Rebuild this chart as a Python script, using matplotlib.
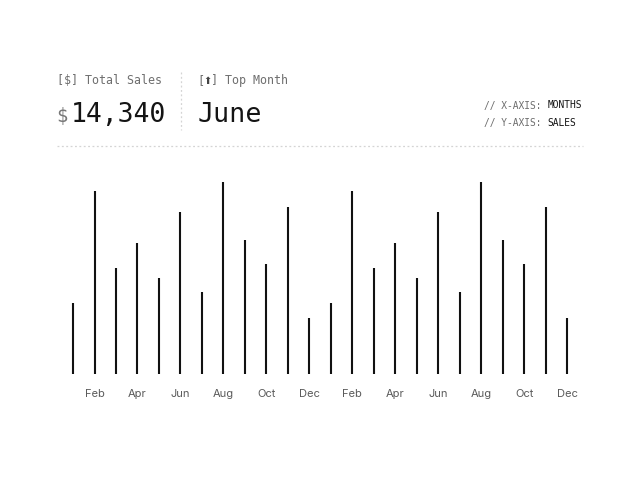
import matplotlib
matplotlib.use("Agg")
import matplotlib.pyplot as plt
from matplotlib.lines import Line2D

# monthly sales, two years shown side by side
months = ["Jan", "Feb", "Mar", "Apr", "May", "Jun",
          "Jul", "Aug", "Sep", "Oct", "Nov", "Dec"]
sales = [680, 1760, 1020, 1260, 920, 1560, 790, 1850, 1290, 1060, 1610, 540]

labels = months * 2
values = sales * 2

total_text = "14,340"
top_month = "June"

W, H = 640, 480
fig = plt.figure(figsize=(6.4, 4.8), dpi=100)
fig.patch.set_facecolor("white")

def fx(px):
    return px / W

def fy(py):
    return 1 - py / H

mono = ["DejaVu Sans Mono", "DejaVu Sans"]
gray = "#6e6e6e"
ink = "#141414"
cw_head = 0.602 * 8.4 * 100 / 72

# header block
fig.text(fx(57), fy(84), "[$] Total Sales", family=mono, size=8.4, color=gray, va="baseline")
fig.text(fx(56), fy(122), "$", family=mono, size=13.5, color="#777777", va="baseline")
fig.text(fx(70.5), fy(122), total_text, family=mono, size=19, color=ink, va="baseline")

fig.text(fx(197), fy(84), "[", family=mono, size=8.4, color=gray, va="baseline")
fig.text(fx(197 + 1.5 * cw_head), fy(84), "\u2b06", family="DejaVu Sans", size=7,
         color="#444444", va="baseline", ha="center")
fig.text(fx(197 + 2 * cw_head), fy(84), "] Top Month", family=mono, size=8.4,
         color=gray, va="baseline")
fig.text(fx(197.5), fy(122), top_month, family=mono, size=19.3, color=ink, va="baseline")

# axis notes: gray prefix then dark word
cw = 0.602 * 6.9 * 100 / 72
for yy, axis, word in [(108.5, "X", "MONTHS"), (126, "Y", "SALES")]:
    fig.text(fx(484), fy(yy), "// %s-AXIS:" % axis, family=mono, size=6.9,
             color=gray, va="baseline")
    fig.text(fx(484 + 11 * cw), fy(yy), word, family=mono, size=6.9, color=ink,
             va="baseline")

# dotted separators
fig.add_artist(Line2D([fx(181), fx(181)], [fy(72), fy(130)], color="#d4d4d4",
                      lw=0.9, linestyle=(0, (1.5, 2))))
fig.add_artist(Line2D([fx(57), fx(583)], [fy(146), fy(146)], color="#d4d4d4",
                      lw=0.9, linestyle=(0, (1.5, 2))))

# chart
ax = fig.add_axes([fx(62.3), 1 - 373.5 / H, 515.6 / W, 203.5 / H])
x = list(range(len(values)))
ax.vlines(x, 0, values, color="#111111", lw=1.5, capstyle="butt")
ax.set_xlim(-0.5, len(values) - 0.5)
ax.set_ylim(0, 1965)
ax.set_xticks(x[1::2])
ax.set_xticklabels(labels[1::2], family="Inter", fontsize=8, color="#5a5a5a")
ax.tick_params(axis="x", length=0, pad=11)
ax.set_yticks([])
for s in ax.spines.values():
    s.set_visible(False)
ax.patch.set_alpha(0)

fig.savefig("out.png", dpi=100, facecolor="white")
